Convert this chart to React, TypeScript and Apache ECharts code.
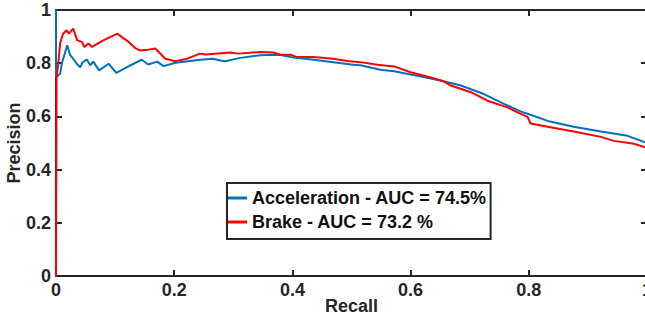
import React, { useEffect, useRef } from "react";
import * as echarts from "echarts";

const xTicks = [0, 0.2, 0.4, 0.6, 0.8, 1];

const accName = "Acceleration - AUC = 74.5%";
const accRecall = [0, 0, 0.007, 0.01, 0.019, 0.024, 0.029, 0.035, 0.041, 0.045, 0.052, 0.058, 0.063, 0.073, 0.089, 0.102, 0.12, 0.145, 0.156, 0.171, 0.182, 0.199, 0.21, 0.244, 0.266, 0.278, 0.286, 0.312, 0.346, 0.368, 0.38, 0.402, 0.436, 0.469, 0.503, 0.515, 0.549, 0.572, 0.628, 0.656, 0.685, 0.724, 0.758, 0.786, 0.803, 0.832, 0.876, 0.922, 0.967, 1.0];
const accPrecision = [1.0, 0.747, 0.76, 0.8, 0.867, 0.83, 0.817, 0.798, 0.785, 0.803, 0.814, 0.792, 0.806, 0.773, 0.798, 0.764, 0.785, 0.813, 0.795, 0.806, 0.789, 0.8, 0.804, 0.813, 0.817, 0.81, 0.807, 0.82, 0.83, 0.832, 0.831, 0.821, 0.813, 0.804, 0.794, 0.792, 0.775, 0.77, 0.745, 0.732, 0.716, 0.684, 0.647, 0.619, 0.606, 0.583, 0.561, 0.543, 0.527, 0.5];

const brakeName = "Brake - AUC = 73.2 %";
const brakeRecall = [0, 0.001, 0.004, 0.007, 0.012, 0.018, 0.022, 0.029, 0.032, 0.036, 0.044, 0.048, 0.055, 0.061, 0.08, 0.104, 0.111, 0.123, 0.134, 0.142, 0.156, 0.168, 0.185, 0.202, 0.222, 0.244, 0.253, 0.295, 0.308, 0.346, 0.368, 0.38, 0.397, 0.408, 0.436, 0.469, 0.493, 0.515, 0.544, 0.572, 0.6, 0.628, 0.656, 0.668, 0.702, 0.73, 0.764, 0.781, 0.798, 0.803, 0.832, 0.876, 0.922, 0.944, 0.978, 1.0];
const brakePrecision = [0, 0.75, 0.8, 0.876, 0.911, 0.924, 0.911, 0.93, 0.911, 0.886, 0.88, 0.861, 0.874, 0.861, 0.886, 0.911, 0.899, 0.88, 0.857, 0.848, 0.851, 0.855, 0.817, 0.807, 0.817, 0.836, 0.833, 0.84, 0.836, 0.842, 0.84, 0.832, 0.832, 0.823, 0.823, 0.817, 0.808, 0.804, 0.794, 0.788, 0.766, 0.75, 0.732, 0.716, 0.691, 0.659, 0.634, 0.615, 0.598, 0.573, 0.561, 0.543, 0.523, 0.508, 0.497, 0.482];

const FONT = "'Liberation Sans', Arial, Helvetica, sans-serif";
const AXIS_COLOR = "#262626";
const FS = 18;

export default function App() {
  const ref = useRef<HTMLDivElement>(null);

  useEffect(() => {
    if (!ref.current) return;
    const chart = echarts.init(ref.current, undefined, { renderer: "svg" });
    const axisCommon = {
      type: "value" as const,
      min: 0,
      max: 1,
      interval: 0.2,
      splitLine: { show: false },
      axisLine: { show: true, onZero: false, lineStyle: { color: AXIS_COLOR, width: 2 } },
      axisTick: { show: true, inside: true, length: 6, lineStyle: { color: AXIS_COLOR, width: 2 } },
    };
    const labelStyle = {
      color: AXIS_COLOR,
      fontWeight: "bold" as const,
      fontSize: FS,
      fontFamily: FONT,
      formatter: (v: number) => (xTicks.includes(v) ? String(Math.round(v * 10) / 10) : ""),
    };
    chart.setOption({
      animation: false,
      backgroundColor: "#ffffff",
      grid: { left: 56, top: 10, width: 591, height: 266, outerBoundsMode: "none" },
      legend: {
        left: 227,
        top: 183,
        orient: "vertical",
        borderColor: AXIS_COLOR,
        borderWidth: 2,
        padding: [5, 4, 7, 1],
        itemGap: 4,
        itemWidth: 19,
        itemHeight: 3,
        icon: "rect",
        backgroundColor: "#ffffff",
        textStyle: { color: "#111", fontWeight: "bold", fontSize: FS, fontFamily: FONT, lineHeight: 20 },
        data: [accName, brakeName],
      },
      xAxis: [
        {
          ...axisCommon,
          position: "bottom",
          name: "Recall",
          nameLocation: "middle",
          nameGap: 21,
          nameMoveOverlap: false,
          nameTextStyle: { color: AXIS_COLOR, fontWeight: "bold", fontSize: FS, fontFamily: FONT },
          axisLabel: { ...labelStyle, margin: 5 },
        },
        { ...axisCommon, position: "top", axisLabel: { show: false } },
      ],
      yAxis: [
        {
          ...axisCommon,
          position: "left",
          name: "Precision",
          nameLocation: "middle",
          nameGap: 33,
          nameMoveOverlap: false,
          nameTextStyle: { color: AXIS_COLOR, fontWeight: "bold", fontSize: FS, fontFamily: FONT },
          axisLabel: { ...labelStyle, margin: 5 },
        },
        { ...axisCommon, position: "right", axisLabel: { show: false } },
      ],
      series: [
        {
          name: accName,
          type: "line",
          xAxisIndex: 0,
          yAxisIndex: 0,
          showSymbol: false,
          symbol: "none",
          clip: false,
          color: "#0072BD",
          lineStyle: { width: 2, color: "#0072BD" },
          data: accRecall.map((r, i) => [r, accPrecision[i]]),
        },
        {
          name: brakeName,
          type: "line",
          xAxisIndex: 0,
          yAxisIndex: 0,
          showSymbol: false,
          symbol: "none",
          clip: false,
          color: "#FF0000",
          lineStyle: { width: 2, color: "#FF0000" },
          data: brakeRecall.map((r, i) => [r, brakePrecision[i]]),
        },
      ],
    });
    return () => chart.dispose();
  }, []);

  return (
    <div
      ref={ref}
      style={{ position: "fixed", left: 0, top: 0, width: 645, height: 322, background: "#fff" }}
    />
  );
}
